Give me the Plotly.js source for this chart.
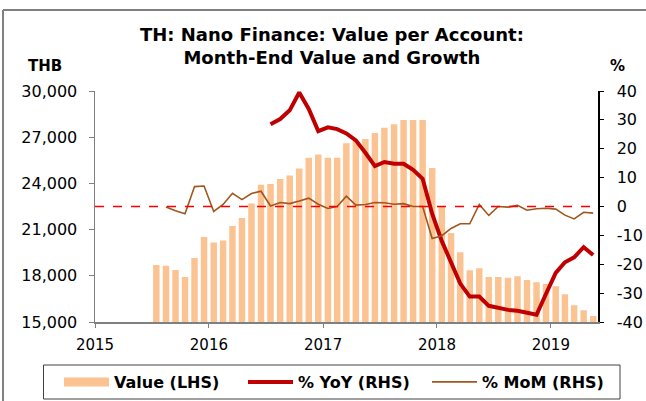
<!DOCTYPE html>
<html>
<head>
<meta charset="utf-8">
<script src="https://cdn.plot.ly/plotly-3.0.1.min.js"></script>
<style>
html,body{margin:0;padding:0;background:#fff;}
#chart{width:646px;height:401px;}
</style>
</head>
<body>
<div id="chart"></div>
<script>
// Month labels (month-end data, Jul 2015 - May 2019)
const months = [
  '2015-07','2015-08','2015-09','2015-10','2015-11','2015-12',
  '2016-01','2016-02','2016-03','2016-04','2016-05','2016-06','2016-07','2016-08','2016-09','2016-10','2016-11','2016-12',
  '2017-01','2017-02','2017-03','2017-04','2017-05','2017-06','2017-07','2017-08','2017-09','2017-10','2017-11','2017-12',
  '2018-01','2018-02','2018-03','2018-04','2018-05','2018-06','2018-07','2018-08','2018-09','2018-10','2018-11','2018-12',
  '2019-01','2019-02','2019-03','2019-04','2019-05'
];
// Value per account, THB (LHS)
const valueTHB = [
  18700,18660,18380,17920,19160,20520,
  20170,20300,21230,21750,22700,23920,23960,24290,24520,24960,25670,25870,
  25670,25670,26600,26750,26880,27270,27620,27840,28120,28120,28120,25000,
  22490,20780,19530,18360,18490,17920,17920,17880,17970,17730,17580,17470,
  17320,16800,16080,15760,15390
];
// % YoY (RHS)
const yoyPct = [
  null,null,null,null,null,null,
  null,null,null,null,null,null,28.5,30.3,33.3,39.5,33.8,26.1,
  27.4,26.8,25.3,22.9,18.6,14.0,15.4,14.8,14.8,12.7,9.6,-2.5,
  -12.0,-19.2,-26.7,-31.2,-31.2,-34.4,-35.2,-35.8,-36.1,-36.9,-37.5,-30.2,
  -23.0,-19.3,-17.6,-14.1,-16.8
];
// % MoM (RHS)
const momPct = [
  null,-0.2,-1.5,-2.5,6.9,7.1,
  -1.7,0.7,4.6,2.4,4.5,5.3,0.2,1.4,1.0,1.9,2.9,0.8,
  -0.7,0.0,3.6,0.5,0.7,1.4,1.3,0.8,1.0,0.0,0.0,-11.1,
  -10.1,-7.6,-6.0,-6.0,0.7,-3.1,0.0,-0.2,0.4,-1.3,-0.8,-0.6,
  -0.9,-3.0,-4.3,-2.0,-2.3
];
// Axis tick labels
const lhsTickVals = [15000,18000,21000,24000,27000,30000];
const lhsTickText = ['15,000','18,000','21,000','24,000','27,000','30,000'];
const rhsTickVals = [-40,-30,-20,-10,0,10,20,30,40];
const rhsTickText = ['-40','-30','-20','-10','0','10','20','30','40'];
const seriesNames = ['Value (LHS)', '% YoY (RHS)', '% MoM (RHS)'];
const titleLines = ['TH: Nano Finance: Value per Account:', 'Month-End Value and Growth'];

const barColor = '#FBC292';
const yoyColor = '#C00000';
const momColor = '#A0561C';
const FONT = 'DejaVu Sans, Liberation Sans, Arial, sans-serif';

const traces = [
  {
    type:'bar', x:months, y:valueTHB, xperiod:'M1', xperiodalignment:'middle',
    marker:{color:barColor}, name:seriesNames[0], showlegend:false, hoverinfo:'skip'
  },
  { // legend swatch for the bars (wide band, as in the reference)
    type:'scatter', mode:'lines', x:[null], y:[null], name:seriesNames[0],
    line:{color:barColor, width:9}, showlegend:true
  },
  {
    type:'scatter', mode:'lines', x:months, y:yoyPct, yaxis:'y2', xperiod:'M1', xperiodalignment:'middle',
    line:{color:yoyColor, width:4}, name:seriesNames[1]
  },
  {
    type:'scatter', mode:'lines', x:months, y:momPct, yaxis:'y2', xperiod:'M1', xperiodalignment:'middle',
    line:{color:momColor, width:1.6}, name:seriesNames[2]
  }
];

const L = 95, R = 598, T = 91, B = 322; // plot area in px
const px = v => (v - L) / (R - L);
const py = v => (B - v) / (B - T);

const layout = {
  width:646, height:401,
  margin:{l:L, r:646-R, t:T, b:401-B, pad:0, autoexpand:false},
  paper_bgcolor:'#fff', plot_bgcolor:'#fff',
  font:{family:FONT, size:16, color:'#000'},
  bargap:0.3,
  showlegend:true,
  xaxis:{
    type:'date', range:['2015-01-01','2019-06-01'], tick0:'2015-01-01', dtick:'M12', tickformat:'%Y',
    ticks:'outside', ticklen:4, tickcolor:'#808080', showline:true, linecolor:'#808080', linewidth:1.5,
    showgrid:false, zeroline:false, tickfont:{size:15}, ticklabelstandoff:4, fixedrange:true
  },
  yaxis:{
    range:[15000,30000], tickmode:'array', tickvals:lhsTickVals, ticktext:lhsTickText,
    ticks:'outside', ticklen:5, tickcolor:'#808080', showline:true, linecolor:'#808080', linewidth:1.5,
    showgrid:false, zeroline:false, tickfont:{size:16}, ticklabelstandoff:8
  },
  yaxis2:{
    overlaying:'y', side:'right', range:[-40,40], tickmode:'array', tickvals:rhsTickVals, ticktext:rhsTickText,
    ticks:'outside', ticklen:4, tickcolor:'#000', showline:true, linecolor:'#000', linewidth:1.5,
    showgrid:false, zeroline:false, tickfont:{size:16}, ticklabelstandoff:10
  },
  legend:{
    orientation:'h', x:px(59), xanchor:'left', y:py(382), yanchor:'middle',
    font:{size:16, weight:'bold'}, bgcolor:'rgba(0,0,0,0)', borderwidth:0,
    itemwidth:45, entrywidth:124, entrywidthmode:'pixels', traceorder:'normal'
  },
  annotations:[
    {text:'<b>'+titleLines[0]+'<br>'+titleLines[1]+'</b>', xref:'paper', yref:'paper', x:px(332), y:py(46.5), showarrow:false, xanchor:'center', yanchor:'middle', align:'center', font:{size:18}},
    {text:'<b>THB</b>', xref:'paper', yref:'paper', x:px(44.5), y:py(66), showarrow:false, xanchor:'center', yanchor:'middle', font:{size:15}},
    {text:'<b>%</b>', xref:'paper', yref:'paper', x:px(617), y:py(66), showarrow:false, xanchor:'center', yanchor:'middle', font:{size:15}}
  ],
  shapes:[
    // zero reference line on RHS axis
    {type:'line', xref:'paper', yref:'y2', x0:0, x1:1, y0:0, y1:0, line:{color:'#FF0000', width:1.5, dash:'dash'}, layer:'above'},
    // legend frame
    {type:'rect', xref:'paper', yref:'paper', x0:px(43.5), x1:px(620), y0:py(365), y1:py(399), line:{color:'#404040', width:1}, fillcolor:'rgba(0,0,0,0)'},
    // outer chart frame (left and top edges)
    {type:'line', xref:'paper', yref:'paper', x0:px(3), x1:px(3), y0:py(10), y1:py(405), line:{color:'#808080', width:2}},
    {type:'line', xref:'paper', yref:'paper', x0:px(3), x1:px(650), y0:py(10), y1:py(10), line:{color:'#808080', width:2}}
  ]
};

Plotly.newPlot('chart', traces, layout, {staticPlot:true, displayModeBar:false});
</script>
</body>
</html>
